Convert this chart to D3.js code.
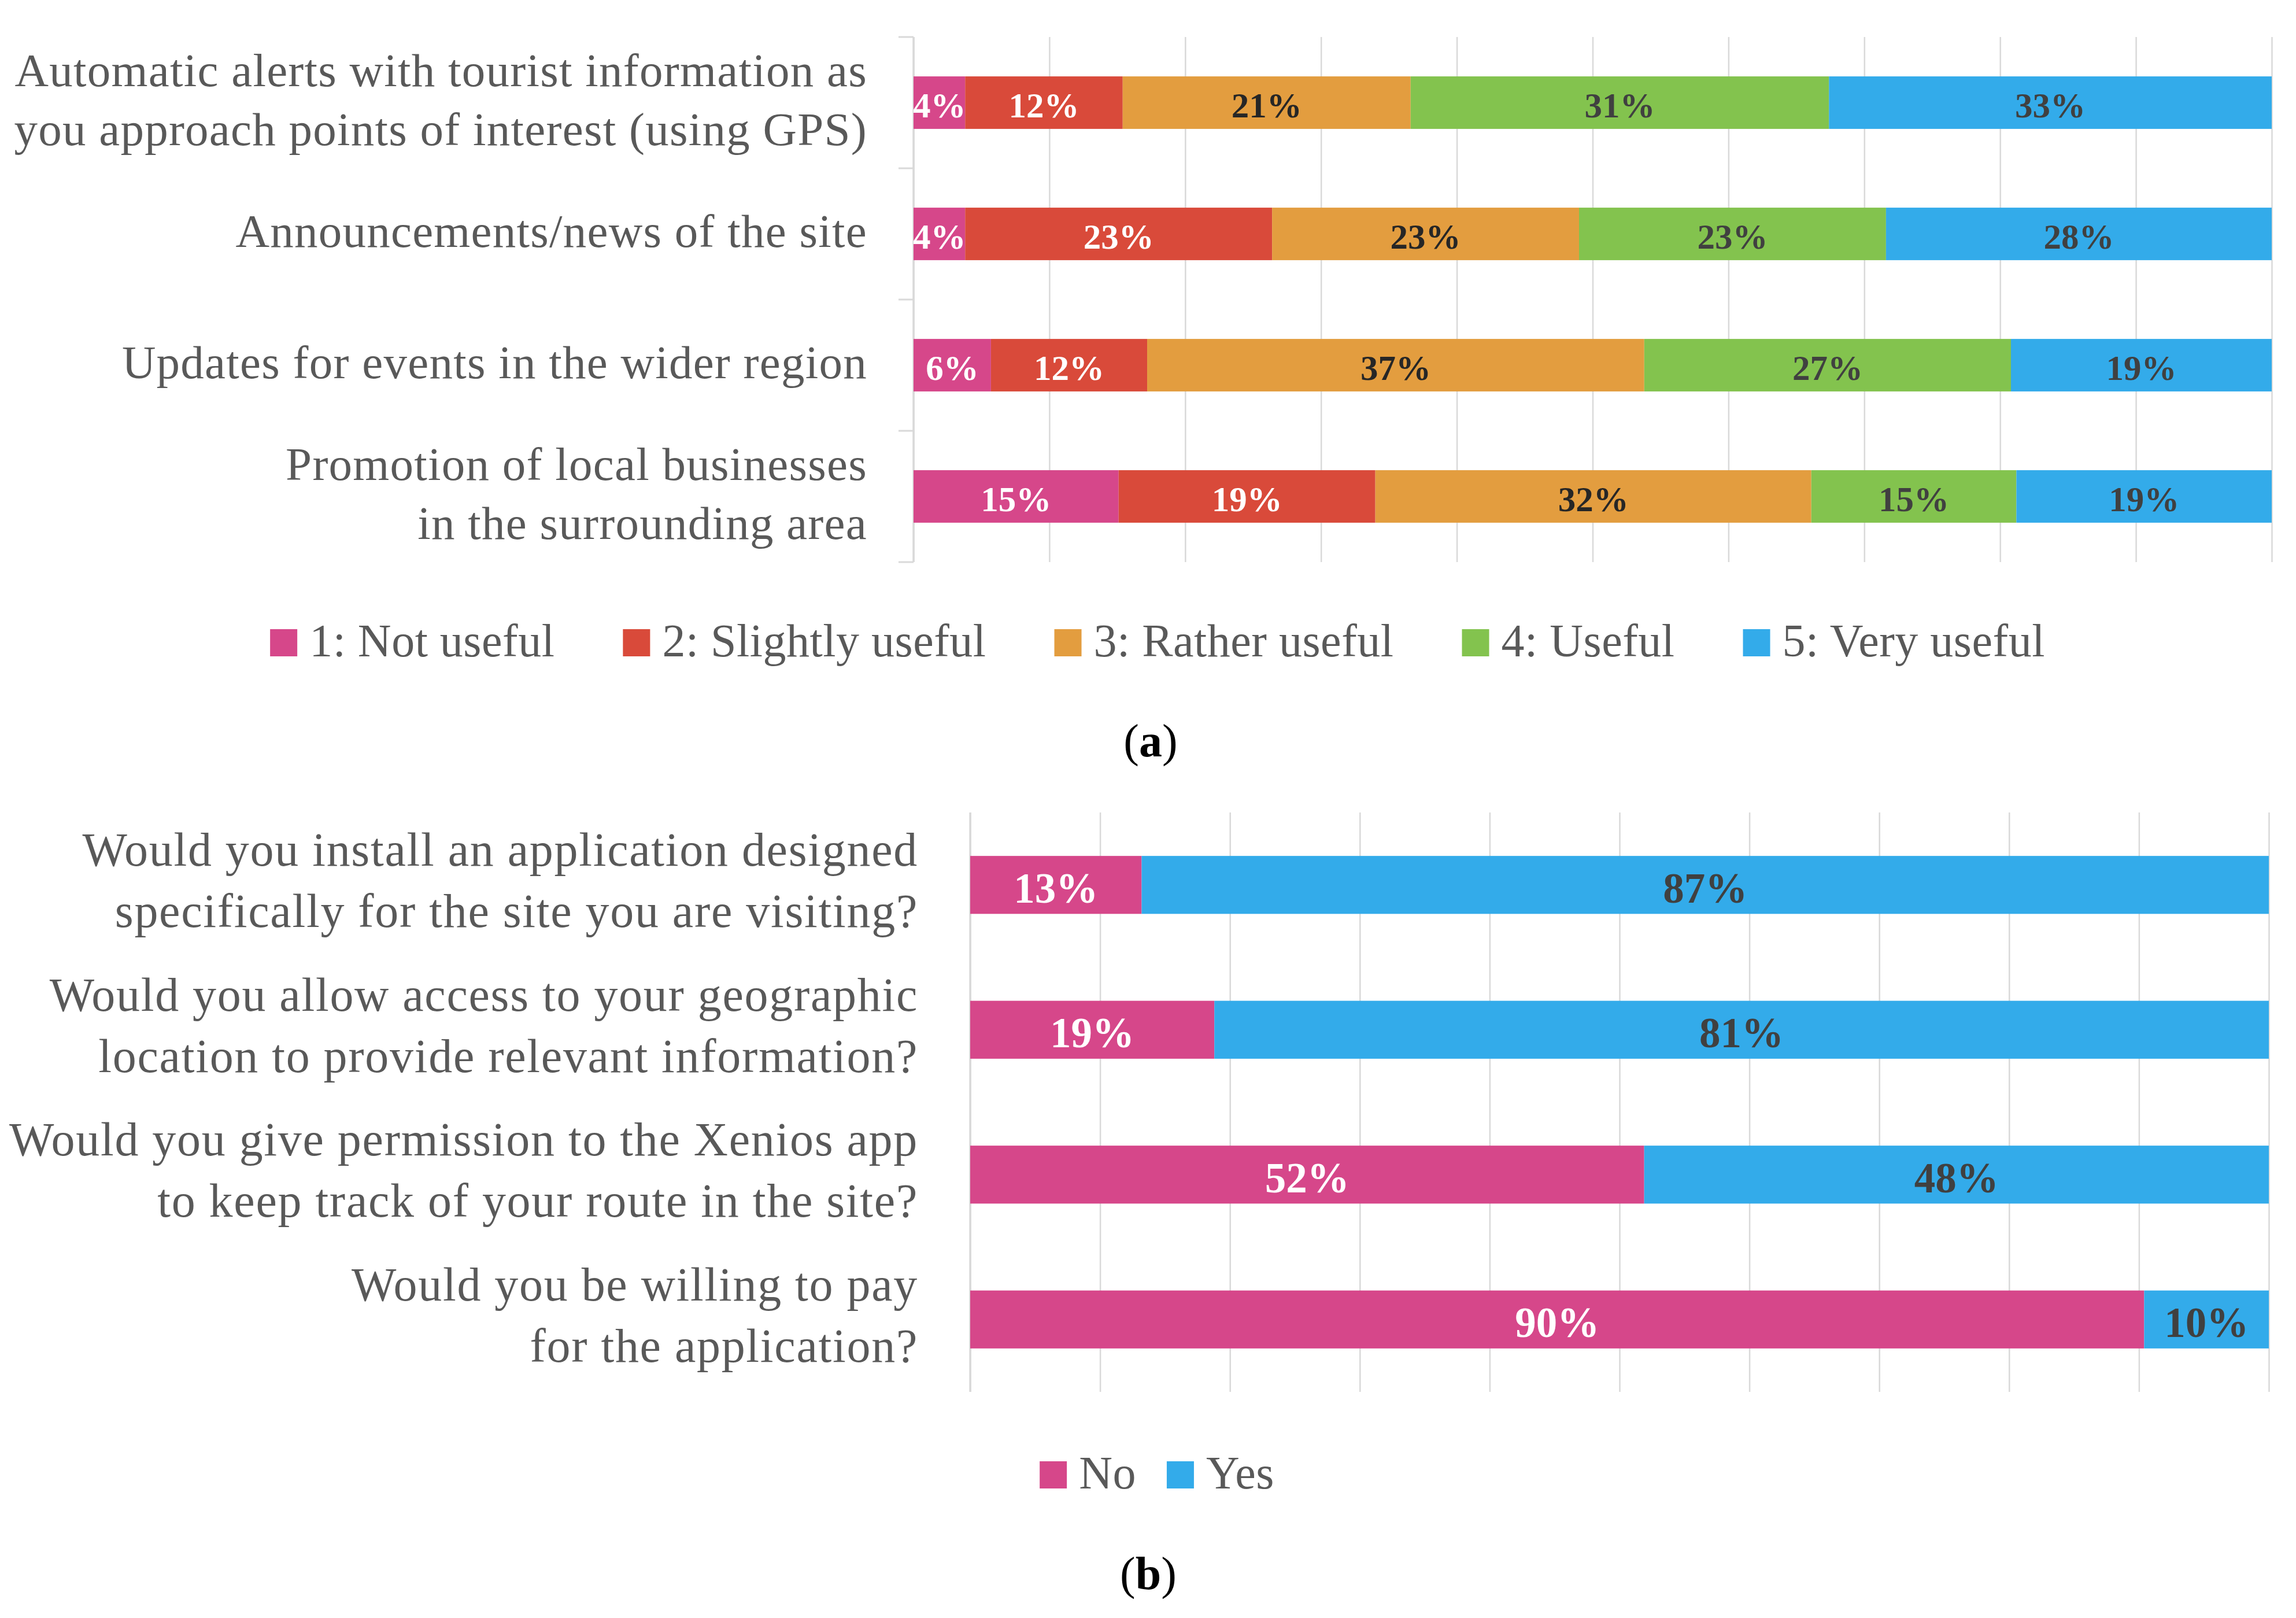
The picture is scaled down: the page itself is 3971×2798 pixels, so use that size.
<!DOCTYPE html>
<html><head><meta charset="utf-8">
<script src="https://cdn.jsdelivr.net/npm/d3@7"></script>
<style>html,body{margin:0;padding:0;background:#fff;} svg{display:block}</style>
</head><body>
<svg id="chart" width="3971" height="2798"></svg>
<script>
// ---------- DATA ----------
const categoriesA = [
  ["Automatic alerts with tourist information as", "you approach points of interest (using GPS)"],
  ["Announcements/news of the site"],
  ["Updates for events in the wider region"],
  ["Promotion of local businesses", "in the surrounding area"]
];
const seriesA = ["1: Not useful", "2: Slightly useful", "3: Rather useful", "4: Useful", "5: Very useful"];
const notUseful      = [3.8, 3.8, 5.7, 15.1];
const slightlyUseful = [11.6, 22.6, 11.5, 18.9];
const ratherUseful   = [21.2, 22.6, 36.6, 32.1];
const usefulVals     = [30.8, 22.6, 27.0, 15.1];
const veryUseful     = [32.6, 28.4, 19.2, 18.8];

const categoriesB = [
  ["Would you install an application designed", "specifically for the site you are visiting?"],
  ["Would you allow access to your geographic", "location to provide relevant information?"],
  ["Would you give permission to the Xenios app", "to keep track of your route in the site?"],
  ["Would you be willing to pay", "for the application?"]
];
const seriesB = ["No", "Yes"];
const noVals  = [13.2, 18.8, 51.9, 90.4];
const yesVals = [86.8, 81.2, 48.1, 9.6];

const xTicks = [0, 10, 20, 30, 40, 50, 60, 70, 80, 90, 100];

// ---------- STYLE ----------
const colorsA = ["#D6478A", "#D94A3A", "#E39D3F", "#83C34E", "#33ABEA"];
const labelColorsA = ["#ffffff", "#ffffff", "#262626", "#404040", "#404040"];
const colorsB = ["#D6478A", "#33ABEA"];
const labelColorsB = ["#ffffff", "#404040"];
const FONT = "'Liberation Serif', 'Times New Roman', serif";
const TEXT_GRAY = "#595959";
const GRID = "#D9D9D9";

const svg = d3.select("#chart");
svg.append("rect").attr("width", 3971).attr("height", 2798).attr("fill", "#fff");

function drawPanel(cfg) {
  const {id, categories, series, values, colors, labelColors, x0, x1, y0, y1,
         labelX, labelSize, labelSpacing, lineGap, labelBase, dataSize, hasTicks} = cfg;
  const g = svg.append("g");
  const idx = d3.range(categories.length);
  const x = d3.scaleLinear().domain([0, 100]).range([x0, x1]);
  const y = d3.scaleBand().domain(idx).range([y0, y1]).paddingInner(0.6).paddingOuter(0.3);

  // grid via axis
  const grid = g.append("g").attr("transform", `translate(0,${y1})`)
    .call(d3.axisBottom(x).tickValues(xTicks).tickSize(-(y1 - y0)).tickFormat(""));
  grid.select(".domain").remove();
  grid.selectAll(".tick line").attr("stroke", GRID).attr("stroke-width", 2.5);

  // left axis line
  g.append("line").attr("x1", x(0)).attr("x2", x(0)).attr("y1", y0).attr("y2", y1)
    .attr("stroke", GRID).attr("stroke-width", 3.5);
  if (hasTicks) {
    const bounds = d3.range(categories.length + 1).map(i => y0 + i * y.step());
    g.selectAll(".ytick").data(bounds).join("line")
      .attr("x1", x(0) - 26).attr("x2", x(0)).attr("y1", d => d).attr("y2", d => d)
      .attr("stroke", GRID).attr("stroke-width", 3);
  }

  // stacked data
  const rows = idx.map(i => {
    const o = {i};
    series.forEach((s, k) => o[s] = values[k][i]);
    return o;
  });
  const stacked = d3.stack().keys(series)(rows);

  const bars = g.append("g");
  stacked.forEach((layer, k) => {
    bars.selectAll(null).data(layer).join("rect")
      .attr("x", d => x(d[0])).attr("width", d => x(d[1]) - x(d[0]))
      .attr("y", (d, i) => y(i)).attr("height", y.bandwidth())
      .attr("fill", colors[k]);
  });

  // clip for data labels
  const clip = svg.append("clipPath").attr("id", "clip" + id);
  clip.append("rect").attr("x", x0).attr("y", y0).attr("width", x1 - x0).attr("height", y1 - y0);
  const lab = g.append("g").attr("clip-path", `url(#clip${id})`);
  stacked.forEach((layer, k) => {
    lab.selectAll(null).data(layer).join("text")
      .attr("x", d => (x(d[0]) + x(d[1])) / 2)
      .attr("y", (d, i) => y(i) + y.bandwidth() / 2 + dataSize * 0.42)
      .attr("text-anchor", "middle")
      .attr("font-family", FONT).attr("font-weight", "bold")
      .attr("font-size", dataSize).attr("fill", labelColors[k])
      .text(d => Math.round(d[1] - d[0]) + "%");
  });

  // category labels
  categories.forEach((lines, i) => {
    const cy = y(i) + y.bandwidth() / 2;
    const t = g.append("text").attr("text-anchor", "end")
      .attr("font-family", FONT).attr("font-size", labelSize)
      .attr("letter-spacing", labelSpacing).attr("fill", TEXT_GRAY);
    const first = cy + labelBase - (lines.length - 1) * lineGap / 2;
    lines.forEach((ln, j) => {
      t.append("tspan").attr("x", labelX).attr("y", first + j * lineGap).text(ln);
    });
  });
}

function drawLegend(items, colors, cx, baseY, fontSize, sq, gapAfter) {
  const g = svg.append("g");
  const widths = items.map(s => {
    const t = g.append("text").attr("font-family", FONT).attr("font-size", fontSize)
      .attr("letter-spacing", 0.5).text(s);
    const w = t.node().getComputedTextLength();
    t.remove();
    return w;
  });
  const textOff = sq + 21;
  const total = d3.sum(widths) + items.length * textOff + (items.length - 1) * gapAfter;
  let xp = cx - total / 2;
  items.forEach((s, k) => {
    g.append("rect").attr("x", xp).attr("y", baseY - sq).attr("width", sq).attr("height", sq)
      .attr("fill", colors[k]);
    g.append("text").attr("x", xp + textOff).attr("y", baseY)
      .attr("font-family", FONT).attr("font-size", fontSize).attr("letter-spacing", 0.5)
      .attr("fill", TEXT_GRAY).text(s);
    xp += textOff + widths[k] + gapAfter;
  });
}

function caption(letter, cx, baseY) {
  const t = svg.append("text").attr("x", cx).attr("y", baseY).attr("text-anchor", "middle")
    .attr("font-family", FONT).attr("font-size", 80).attr("fill", "#000");
  t.append("tspan").text("(");
  t.append("tspan").attr("font-weight", "bold").text(letter);
  t.append("tspan").text(")");
}

drawPanel({
  id: "A", categories: categoriesA, series: seriesA,
  values: [notUseful, slightlyUseful, ratherUseful, usefulVals, veryUseful],
  colors: colorsA, labelColors: labelColorsA,
  x0: 1580, x1: 3929, y0: 64, y1: 972,
  labelX: 1500, labelSize: 81, labelSpacing: 1.25, lineGap: 102, labelBase: 22, dataSize: 61, hasTicks: true
});
drawLegend(seriesA, colorsA, 2002, 1135, 80, 47, 118);
caption("a", 1990, 1308);

drawPanel({
  id: "B", categories: categoriesB, series: seriesB,
  values: [noVals, yesVals],
  colors: colorsB, labelColors: labelColorsB,
  x0: 1678, x1: 3924, y0: 1405, y1: 2407,
  labelX: 1588, labelSize: 82, labelSpacing: 1.7, lineGap: 106, labelBase: 20, dataSize: 73, hasTicks: false
});
drawLegend(seriesB, colorsB, 2001, 2574, 80, 47, 53);
caption("b", 1986, 2748);
</script>
</body></html>
